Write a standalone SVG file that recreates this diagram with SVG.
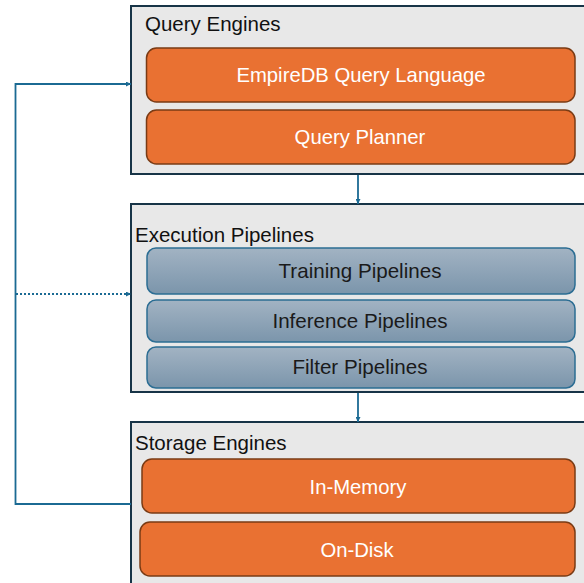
<svg xmlns="http://www.w3.org/2000/svg" width="584" height="583" viewBox="0 0 584 583">
  <defs>
    <linearGradient id="blueGrad" x1="0" y1="0" x2="0" y2="1">
      <stop offset="0" stop-color="#a2b3c3"/>
      <stop offset="1" stop-color="#7b95ab"/>
    </linearGradient>
    <marker id="arrow" viewBox="0 0 10 10" refX="10" refY="5" markerWidth="5" markerHeight="5" orient="auto" markerUnits="userSpaceOnUse">
      <path d="M0,0 L10,5 L0,10 z" fill="#1b6a93"/>
    </marker>
    <style>
      .group { fill: #e8e8e8; stroke: #173447; stroke-width: 2; }
      .orange { fill: #e97132; stroke: #7a3b14; stroke-width: 1.5; }
      .steel { fill: url(#blueGrad); stroke: #2b6d93; stroke-width: 1.5; }
      .title { font-family: "Liberation Sans", Arial, sans-serif; font-size: 20.5px; fill: #111; }
      .wlabel { font-family: "Liberation Sans", Arial, sans-serif; font-size: 20.3px; fill: #ffffff; text-anchor: middle; }
      .dlabel { font-family: "Liberation Sans", Arial, sans-serif; font-size: 20.6px; fill: #1a1a1a; text-anchor: middle; }
      .conn { fill: none; stroke: #1b6a93; stroke-width: 1.8; }
    </style>
  </defs>

  <g id="query-engines">
    <rect class="group" x="131" y="6" width="460" height="168"/>
    <text class="title" x="145" y="31">Query Engines</text>
  </g>
  <g id="empiredb-query-language">
    <rect class="orange" x="146.5" y="48" width="428.5" height="54" rx="10"/>
    <text class="wlabel" x="361" y="82">EmpireDB Query Language</text>
  </g>
  <g id="query-planner">
    <rect class="orange" x="146.5" y="110" width="428.5" height="54" rx="10"/>
    <text class="wlabel" x="360" y="144">Query Planner</text>
  </g>

  <g id="execution-pipelines">
    <rect class="group" x="131" y="204" width="460" height="188"/>
    <text class="title" x="135" y="242">Execution Pipelines</text>
  </g>
  <g id="training-pipelines">
    <rect class="steel" x="147" y="248" width="428" height="46" rx="9"/>
    <text class="dlabel" x="360" y="278">Training Pipelines</text>
  </g>
  <g id="inference-pipelines">
    <rect class="steel" x="147" y="300" width="428" height="42" rx="9"/>
    <text class="dlabel" x="360" y="328">Inference Pipelines</text>
  </g>
  <g id="filter-pipelines">
    <rect class="steel" x="147" y="347" width="428" height="41" rx="9"/>
    <text class="dlabel" x="360" y="374">Filter Pipelines</text>
  </g>

  <g id="storage-engines">
    <rect class="group" x="131" y="422" width="460" height="170"/>
    <text class="title" x="135" y="450">Storage Engines</text>
  </g>
  <g id="in-memory">
    <rect class="orange" x="142" y="459" width="433" height="54" rx="10"/>
    <text class="wlabel" x="358" y="494">In-Memory</text>
  </g>
  <g id="on-disk">
    <rect class="orange" x="140" y="522" width="435" height="54" rx="10"/>
    <text class="wlabel" x="357" y="557">On-Disk</text>
  </g>

  <g id="connectors">
    <line class="conn" x1="358" y1="175" x2="358" y2="204" marker-end="url(#arrow)"/>
    <line class="conn" x1="358" y1="393" x2="358" y2="422" marker-end="url(#arrow)"/>
    <polyline class="conn" points="131,504 15.5,504 15.5,84 131,84" marker-end="url(#arrow)"/>
    <line class="conn" x1="16" y1="294" x2="131" y2="294" stroke-dasharray="2,2" marker-end="url(#arrow)"/>
  </g>
</svg>
